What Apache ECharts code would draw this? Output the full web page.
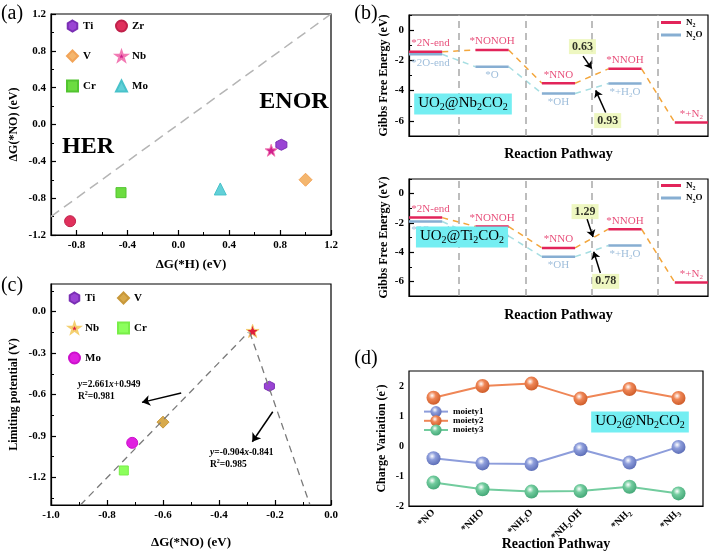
<!DOCTYPE html>
<html>
<head>
<meta charset="utf-8">
<title>UO2@M2CO2 NO reduction</title>
<script src="https://cdn.jsdelivr.net/npm/echarts@6.0.0/dist/echarts.min.js"></script>
<style>
  html, body { margin: 0; padding: 0; background: #fff; }
  #chart { width: 709px; height: 556px; }
</style>
</head>
<body>
<div id="chart"></div>
<script>
// ---- (a) dG(*H) vs dG(*NO)
const metalsA = ['Ti', 'Zr', 'V', 'Nb', 'Cr', 'Mo'];
const dgH_A = [0.81, -0.85, 1.0, 0.73, -0.45, 0.33];
const dgNO_A = [-0.22, -1.05, -0.6, -0.28, -0.74, -0.7];
const parityLine = [[-1.0, -1.0], [1.2, 1.2]];
const aXTicks = [-0.8, -0.4, 0, 0.4, 0.8, 1.2];
const aXMinor = [-1.0, -0.6, -0.2, 0.2, 0.6, 1.0];
const aYTicks = [-1.2, -0.8, -0.4, 0, 0.4, 0.8, 1.2];
const aYMinor = [-1.0, -0.6, -0.2, 0.2, 0.6, 1.0];

// ---- (c) limiting potential vs dG(*NO)
const metalsC = ['Ti', 'V', 'Nb', 'Cr', 'Mo'];
const dgNO_C = [-0.22, -0.6, -0.28, -0.74, -0.71];
const limitPot = [-0.54, -0.8, -0.14, -1.15, -0.95];
const fitLeft = [[-0.895, -1.4], [-0.295, -0.15]];
const fitRight = [[-0.29, -0.15], [-0.075, -1.4]];
const fitArrows = [[[-0.535, -0.589], [-0.675, -0.657]], [[-0.208, -0.725], [-0.281, -0.942]]];
const cXTicks = [-1.0, -0.8, -0.6, -0.4, -0.2, 0];
const cXMinor = [-0.9, -0.7, -0.5, -0.3, -0.1];
const cYTicks = [-1.2, -0.9, -0.6, -0.3, 0];
const cYMinor = [-1.35, -1.05, -0.75, -0.45, -0.15, 0.15];

// ---- (b) free energy pathways
const n2Names = ['*2N-end', '*NONOH', '*NNO', '*NNOH', '*+N2'];
const n2oNames = ['*2O-end', '*O', '*OH', '*+H2O'];
const nbN2 = [-1.43, -1.31, -3.51, -2.56, -6.11];
const nbN2O = [-1.6, -2.42, -4.19, -3.53];
const tiN2 = [-1.64, -2.25, -3.71, -2.43, -6.07];
const tiN2O = [-1.91, -2.9, -4.31, -3.55];
const nbBarriers = ['0.63', '0.93'];
const tiBarriers = ['1.29', '0.78'];
const nbBarrierAt = [[2.36, -1.09], [2.74, -5.98]];
const tiBarrierAt = [[2.4, -1.23], [2.71, -6.0]];
const nbArrows = [[[2.37, -1.72], [2.5, -2.55]], [[2.71, -5.45], [2.56, -3.98]]];
const tiArrows = [[[2.43, -1.73], [2.52, -2.97]], [[2.63, -5.43], [2.53, -3.98]]];
const dividers = [0.5, 1.5, 2.5, 3.5];
const bYTicks = [-6, -4, -2, 0];
const bYMinor = [-7, -5, -3, -1, 1];

// ---- (d) charge variation
const intermediates = ['*NO', '*NHO', '*NH2O', '*NH2OH', '*NH2', '*NH3'];
const moiety1 = [-0.41, -0.58, -0.6, -0.11, -0.55, -0.03];
const moiety2 = [1.61, 2.0, 2.08, 1.58, 1.9, 1.6];
const moiety3 = [-1.22, -1.44, -1.52, -1.5, -1.36, -1.58];
const dYTicks = [-2, -1, 0, 1, 2];
const dYMinor = [-1.5, -0.5, 0.5, 1.5];

const SERIF = 'Liberation Serif';
const RED = '#e2245a', BLUE = '#87aed2', ORANGE = '#f3a63c', CYAN = '#a6dee2';
const HALF = 0.25;

const HEX = 'path://M50,0 L93.3,25 L93.3,75 L50,100 L6.7,75 L6.7,25 Z';
const STAR = 'path://M50,2 L61.8,36.2 L97.6,36.2 L68.6,57.3 L79.4,91.5 L50,70.4 L20.6,91.5 L31.4,57.3 L2.4,36.2 L38.2,36.2 Z';
const BAR = 'path://M0,0 L100,0 L100,14 L0,14 Z';

const styleA = {
  Ti: { symbol: HEX, size: 11, color: '#9a44d4', border: '#7a2fb4' },
  Zr: { symbol: 'circle', size: 11, color: '#e0305c', border: '#c0204a' },
  V: { symbol: 'diamond', size: 13, color: '#f4b66e', border: '#f2a458' },
  Nb: { symbol: STAR, size: 12, color: '#d0208c', border: '#f27ab4' },
  Cr: { symbol: 'rect', size: 10, color: '#6cdc40', border: '#52c430' },
  Mo: { symbol: 'triangle', size: 12, color: '#62d0d8', border: '#48c2ca' }
};
const styleC = {
  Ti: { symbol: HEX, size: 10, color: '#9a44d4', border: '#7a2fb4' },
  V: { symbol: 'diamond', size: 12, color: '#d8aa4c', border: '#c8983a' },
  Nb: { symbol: STAR, size: 13, color: '#e01c3c', border: '#f4d070' },
  Cr: { symbol: 'rect', size: 9, color: '#8cff5c', border: '#78ee48' },
  Mo: { symbol: 'circle', size: 11, color: '#e020e0', border: '#cc10cc' }
};

// subscript every digit that follows a letter
function rt(t) {
  const s = '{n|' + t.replace(/([A-Za-z])(\d)/g, '$1}{s|$2}{n|') + '}';
  return s.replace(/\{n\|\}/g, '');
}

function rich(size, color, weight) {
  const base = { fontFamily: SERIF, fontWeight: weight, color: color, fill: color };
  const small = Math.round(size * 0.68);
  return {
    n: Object.assign({}, base, { fontSize: size, lineHeight: size + 3 }),
    i: Object.assign({}, base, { fontSize: size, lineHeight: size + 3, fontStyle: 'italic' }),
    s: Object.assign({}, base, { fontSize: small, lineHeight: Math.round(size * 0.6), verticalAlign: 'bottom' }),
    p: Object.assign({}, base, { fontSize: small, lineHeight: Math.round(size * 0.6), verticalAlign: 'top' })
  };
}

function valAxis(grid, min, max, ticks, dec, name, gap, nameSize, labelSize) {
  return {
    type: 'value', gridIndex: grid, min: min, max: max,
    axisLine: { onZero: false, lineStyle: { color: '#000', width: 1.2 } },
    axisTick: { inside: true, length: 5, customValues: ticks, lineStyle: { color: '#000', width: 1.2 } },
    axisLabel: {
      customValues: ticks, margin: 5, color: '#000', fontFamily: SERIF, fontWeight: 'bold',
      fontSize: labelSize, formatter: (v) => Number(v).toFixed(dec)
    },
    splitLine: { show: false },
    name: name, nameLocation: 'middle', nameGap: gap, nameMoveOverlap: false,
    nameTextStyle: { fontFamily: SERIF, fontWeight: 'bold', fontSize: nameSize, color: '#000', rich: rich(nameSize, '#000', 'bold') }
  };
}

function minorAxis(grid, min, max, ticks, position) {
  return {
    type: 'value', gridIndex: grid, min: min, max: max, position: position,
    axisLine: { show: false, onZero: false },
    axisLabel: { show: false },
    splitLine: { show: false },
    axisTick: { inside: true, length: 3, customValues: ticks, lineStyle: { color: '#000', width: 1 } }
  };
}

function pathAxis(grid, gap) {
  return {
    type: 'value', gridIndex: grid, min: -0.25, max: 4.25,
    axisLine: { onZero: false, lineStyle: { color: '#000', width: 1.2 } },
    axisTick: { show: false }, axisLabel: { show: false }, splitLine: { show: false },
    name: 'Reaction Pathway', nameLocation: 'middle', nameGap: gap, nameMoveOverlap: false,
    nameTextStyle: { fontFamily: SERIF, fontWeight: 'bold', fontSize: 14, color: '#000' }
  };
}

const xAxes = [
  valAxis(0, -1.0, 1.2, aXTicks, 1, 'ΔG(*H) (eV)', 23, 13, 11),
  valAxis(1, -1.0, 0, cXTicks, 1, 'ΔG(*NO) (eV)', 31, 13, 11),
  pathAxis(2, 11),
  pathAxis(3, 12),
  {
    type: 'category', gridIndex: 4, data: intermediates,
    axisLine: { onZero: false, lineStyle: { color: '#000', width: 1.2 } },
    axisTick: { inside: true, alignWithLabel: true, length: 4, lineStyle: { color: '#000', width: 1.2 } },
    axisLabel: { rotate: 45, margin: 5, formatter: (v) => rt(v), rich: rich(10, '#000', 'bold') },
    name: 'Reaction Pathway', nameLocation: 'middle', nameGap: 31, nameMoveOverlap: false,
    nameTextStyle: { fontFamily: SERIF, fontWeight: 'bold', fontSize: 14, color: '#000' }
  },
  minorAxis(0, -1.0, 1.2, aXMinor, 'bottom'),
  minorAxis(1, -1.0, 0, cXMinor, 'bottom')
];

const yAxes = [
  valAxis(0, -1.2, 1.2, aYTicks, 1, 'ΔG(*NO) (eV)', 31, 12, 11),
  valAxis(1, -1.4, 0.2, cYTicks, 1, 'Limiting potential (V)', 31, 12, 11),
  valAxis(2, -7, 1, bYTicks, 0, 'Gibbs Free Energy (eV)', 19, 12, 11),
  valAxis(3, -7, 1, bYTicks, 0, 'Gibbs Free Energy (eV)', 19, 12, 11),
  valAxis(4, -2, 2.5, dYTicks, 0, '{n|Charge Variation (e}{p|-}{n|)}', 20, 12, 10),
  minorAxis(0, -1.2, 1.2, aYMinor, 'left'),
  minorAxis(1, -1.4, 0.2, cYMinor, 'left'),
  minorAxis(2, -7, 1, bYMinor, 'left'),
  minorAxis(3, -7, 1, bYMinor, 'left'),
  minorAxis(4, -2, 2.5, dYMinor, 'left')
];

const series = [];

// (a)
series.push({
  type: 'line', xAxisIndex: 0, yAxisIndex: 0, data: parityLine, symbol: 'none', silent: true,
  lineStyle: { color: '#b5b5b5', width: 1.5, type: [10, 6] }
});
metalsA.forEach((m, i) => {
  const st = styleA[m];
  series.push({
    type: 'scatter', name: 'a-' + m, xAxisIndex: 0, yAxisIndex: 0,
    data: [[dgH_A[i], dgNO_A[i]]], symbol: st.symbol, symbolSize: st.size,
    itemStyle: { color: st.color, borderColor: st.border, borderWidth: 1, opacity: 1 }
  });
});

// (c)
[fitLeft, fitRight].forEach((seg) => series.push({
  type: 'line', xAxisIndex: 1, yAxisIndex: 1, data: seg, symbol: 'none', silent: true,
  lineStyle: { color: '#7a7a7a', width: 1.3, type: [7, 5] }
}));
metalsC.forEach((m, i) => {
  const st = styleC[m];
  series.push({
    type: 'scatter', name: 'c-' + m, xAxisIndex: 1, yAxisIndex: 1,
    data: [[dgNO_C[i], limitPot[i]]], symbol: st.symbol, symbolSize: st.size,
    itemStyle: { color: st.color, borderColor: st.border, borderWidth: 1, opacity: 1 }
  });
});
series.push({
  type: 'lines', coordinateSystem: 'cartesian2d', xAxisIndex: 1, yAxisIndex: 1, silent: true,
  symbol: ['none', 'arrow'], symbolSize: 8,
  lineStyle: { color: '#000', width: 1.5, opacity: 1 },
  data: fitArrows.map((c) => ({ coords: c })), z: 5
});

// (b)
function pathway(tag, ax, n2, n2o, barriers, barrierAt, arrows) {
  const bars = (ys) => ys.flatMap((y, i) => [[i - HALF, y], [i + HALF, y], [i + 0.5, '-']]);
  const links = (ys) => ys.slice(1).flatMap((y, i) => [[i + HALF, ys[i]], [i + 1 - HALF, y], [i + 1, '-']]);
  series.push({
    type: 'line', xAxisIndex: ax, yAxisIndex: ax, data: links(n2), symbol: 'none', silent: true, z: 2,
    lineStyle: { color: ORANGE, width: 1.5, type: [6, 5] },
    markLine: {
      silent: true, symbol: 'none', label: { show: false },
      lineStyle: { color: '#a8a8a8', width: 1.5, type: [7, 5] },
      data: dividers.map((x) => ({ xAxis: x }))
    }
  });
  series.push({
    type: 'line', xAxisIndex: ax, yAxisIndex: ax, data: links(n2o), symbol: 'none', silent: true, z: 2,
    lineStyle: { color: CYAN, width: 1.5, type: [6, 5] }
  });
  series.push({
    type: 'line', name: tag + '-N2O', xAxisIndex: ax, yAxisIndex: ax, data: bars(n2o), symbol: 'none', z: 3,
    lineStyle: { color: BLUE, width: 2.5 }, itemStyle: { color: BLUE }
  });
  series.push({
    type: 'line', name: tag + '-N2', xAxisIndex: ax, yAxisIndex: ax, data: bars(n2), symbol: 'none', z: 4,
    lineStyle: { color: RED, width: 2.5 }, itemStyle: { color: RED }
  });
  // first-step labels sit a little right of the bar centre so they clear the axis
  const shift = (i) => (i === 0 ? [5, 0] : [0, 0]);
  const labels = n2.map((y, i) => ({
    name: n2Names[i], value: [i, y],
    label: { position: 'top', distance: 1, offset: shift(i), rich: rich(11, RED, 'normal') }
  })).concat(n2o.map((y, i) => ({
    name: n2oNames[i], value: [i, y],
    label: { position: 'bottom', distance: 1, offset: shift(i), rich: rich(11, BLUE, 'normal') }
  })));
  series.push({
    type: 'scatter', xAxisIndex: ax, yAxisIndex: ax, data: labels, symbolSize: 1, silent: true, z: 5,
    itemStyle: { color: 'rgba(0,0,0,0)' },
    label: { show: true, formatter: (p) => rt(p.name) }
  });
  series.push({
    type: 'scatter', xAxisIndex: ax, yAxisIndex: ax, symbolSize: 1, silent: true, z: 6,
    itemStyle: { color: 'rgba(0,0,0,0)' },
    data: barriers.map((b, i) => ({ name: b, value: barrierAt[i] })),
    label: {
      show: true, position: 'inside', formatter: (p) => p.name,
      fontFamily: SERIF, fontWeight: 'bold', fontSize: 12, color: '#000',
      backgroundColor: '#eaf5b2', padding: [2, 3, 1, 3]
    }
  });
  series.push({
    type: 'lines', coordinateSystem: 'cartesian2d', xAxisIndex: ax, yAxisIndex: ax, silent: true,
    symbol: ['none', 'arrow'], symbolSize: 7,
    lineStyle: { color: '#000', width: 1.5, opacity: 1 },
    data: arrows.map((c) => ({ coords: c })), z: 6
  });
}
pathway('bt', 2, nbN2, nbN2O, nbBarriers, nbBarrierAt, nbArrows);
pathway('bb', 3, tiN2, tiN2O, tiBarriers, tiBarrierAt, tiArrows);

// (d)
function ball(c, dark) {
  return new echarts.graphic.RadialGradient(0.4, 0.35, 0.65, [
    { offset: 0, color: '#ffffff' }, { offset: 0.4, color: c }, { offset: 1, color: dark }
  ]);
}
[['moiety1', moiety1, '#8d9ddb', '#5e6fb8'],
 ['moiety2', moiety2, '#ef8656', '#cf5d2a'],
 ['moiety3', moiety3, '#72cc9e', '#45a878']].forEach(([name, vals, c, dark]) => {
  series.push({
    type: 'line', name: name, xAxisIndex: 4, yAxisIndex: 4, data: vals,
    symbol: 'circle', symbolSize: 14, showSymbol: true,
    lineStyle: { color: c, width: 2 }, itemStyle: { color: ball(c, dark) }
  });
});

function gridBox(left, top, width, height) {
  return { left, top, width, height, show: true, borderColor: '#000', borderWidth: 1.2,
    backgroundColor: 'transparent', outerBoundsMode: 'none' };
}

function metalLegend(prefix, names, left, top) {
  return {
    left, top, width: 90, padding: 0, orient: 'horizontal', itemWidth: 11, itemHeight: 11, itemGap: 16,
    data: names.map((m) => prefix + m), formatter: (n) => n.slice(2),
    textStyle: { fontFamily: SERIF, fontWeight: 'bold', fontSize: 11, color: '#000', width: 16, lineHeight: 14 }
  };
}
function pathLegend(tag, top) {
  return {
    left: 661, top, padding: 0, orient: 'vertical', itemWidth: 20, itemHeight: 3, itemGap: 2,
    symbolKeepAspect: false,
    data: [{ name: tag + '-N2', icon: BAR }, { name: tag + '-N2O', icon: BAR }],
    formatter: (n) => rt(n.slice(3)),
    textStyle: { color: '#000', rich: rich(9, '#000', 'bold') }
  };
}

function label(text, x, y, size, weight) {
  return {
    type: 'text', x, y, z: 100, silent: true,
    style: { text, align: 'center', verticalAlign: 'middle', fontFamily: SERIF, fontSize: size,
      fontWeight: weight || 'normal', fill: '#000' }
  };
}
function richLabel(text, x, y, size, weight, align, box) {
  const style = { text, align, verticalAlign: 'middle', rich: rich(size, '#000', weight) };
  if (box) { style.backgroundColor = '#74eef2'; style.padding = [1, 4, 2, 4]; }
  return { type: 'text', x, y, z: 100, silent: true, style };
}
const eqLine = (a, b) => '{i|y}{n|=' + a + '}{i|x}{n|' + b + '}';

const graphics = [
  label('(a)', 12, 14, 20),
  label('(b)', 366, 14, 20),
  label('(c)', 12, 286, 20),
  label('(d)', 366, 359, 20),
  label('HER', 88, 147, 24, 'bold'),
  label('ENOR', 294, 102, 24, 'bold'),
  richLabel(eqLine('2.661', '+0.949'), 78, 385, 9.5, 'bold', 'left'),
  richLabel('{n|R}{p|2}{n|=0.981}', 78, 397, 9.5, 'bold', 'left'),
  richLabel(eqLine('-0.904', '-0.841'), 210, 453, 9.5, 'bold', 'left'),
  richLabel('{n|R}{p|2}{n|=0.985}', 210, 465, 9.5, 'bold', 'left'),
  richLabel(rt('UO2@Nb2CO2'), 463, 104, 15, 'normal', 'center', true),
  richLabel(rt('UO2@Ti2CO2'), 462, 237, 15, 'normal', 'center', true),
  richLabel(rt('UO2@Nb2CO2'), 640, 422, 15, 'normal', 'center', true)
];

const chart = echarts.init(document.getElementById('chart'), null, { renderer: 'canvas' });
chart.setOption({
  animation: false,
  backgroundColor: '#fff',
  textStyle: { fontFamily: SERIF },
  grid: [
    gridBox(51, 14, 280, 221),
    gridBox(51, 284, 280, 221),
    gridBox(409, 15, 299, 121),
    gridBox(409, 179, 299, 117),
    gridBox(409, 371, 294, 135)
  ],
  xAxis: xAxes,
  yAxis: yAxes,
  legend: [
    metalLegend('a-', metalsA, 66, 19),
    metalLegend('c-', metalsC, 68, 291),
    pathLegend('bt', 18),
    pathLegend('bb', 181),
    {
      left: 423, top: 406, padding: 0, orient: 'vertical', itemWidth: 24, itemHeight: 14, itemGap: -2,
      data: ['moiety1', 'moiety2', 'moiety3'],
      textStyle: { fontFamily: SERIF, fontWeight: 'bold', fontSize: 9, color: '#000' }
    }
  ],
  series: series,
  graphic: graphics
});
</script>
</body>
</html>
